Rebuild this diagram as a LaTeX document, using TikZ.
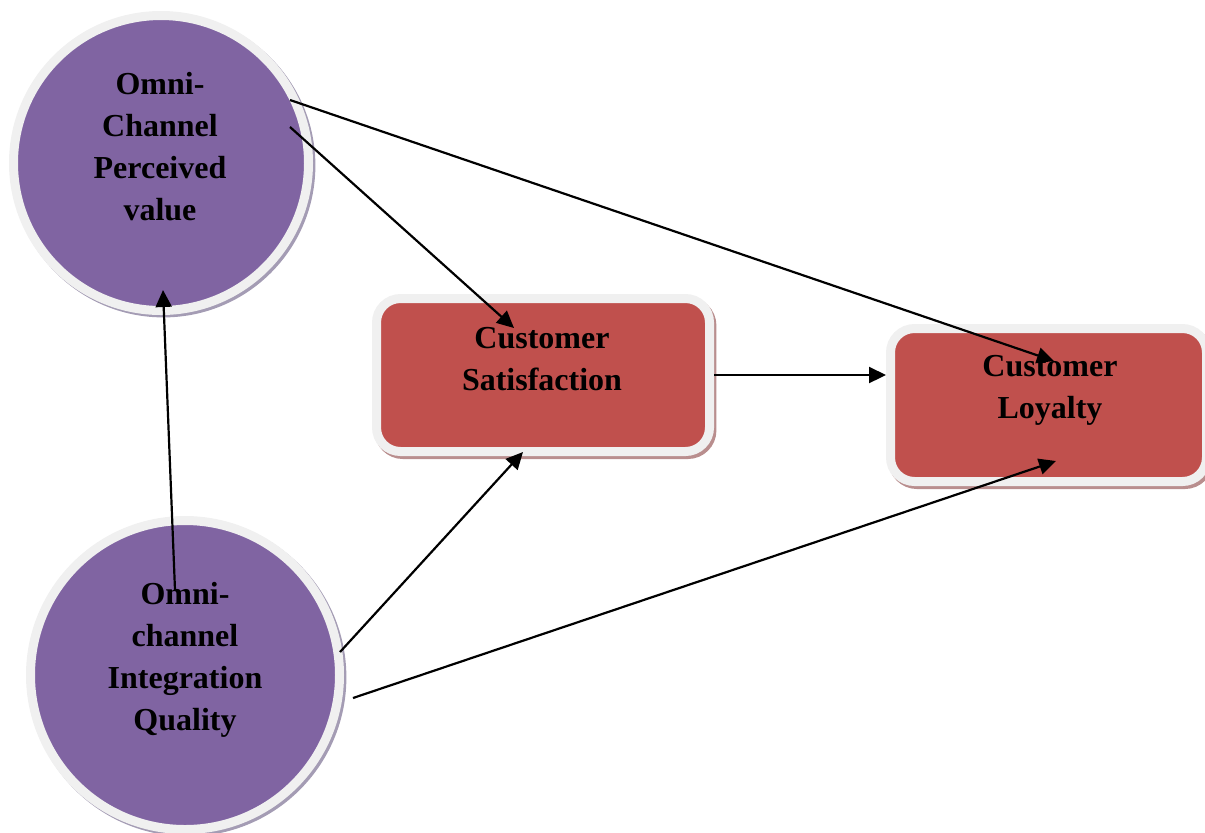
\documentclass[tikz,border=0pt]{standalone}
\usepackage{fontspec}
\setmainfont{Liberation Serif}
\usepackage{xcolor}
\usepackage{tikz}
\usetikzlibrary{arrows.meta}

\definecolor{purp}{HTML}{8064A2}
\definecolor{brick}{HTML}{C0504D}
\definecolor{rim}{HTML}{F0F0F0}
\definecolor{purpshade}{HTML}{A49CB4}
\definecolor{brickshade}{HTML}{B98E8E}

\begin{document}
\begin{tikzpicture}[x=0.5pt,y=-0.5pt,
  ring/.style={draw=rim,line width=4.5pt,inner sep=0pt},
  bubble/.style={ring,circle,fill=purp,
    preaction={draw=purpshade,line width=4.5pt,transform canvas={shift={(1.2pt,-1.2pt)}}}},
  block/.style={ring,rectangle,rounded corners=12pt,fill=brick,
    preaction={draw=brickshade,line width=4.5pt,transform canvas={shift={(1.2pt,-1.5pt)}}}},
  lbl/.style={align=center,font=\fontsize{16}{21}\selectfont\bfseries},
  arr/.style={-{Triangle[length=8.5pt,width=8pt]},line width=1.1pt}]
\useasboundingbox (0,0) rectangle (1205,832);

% constructs
\node[bubble,minimum size=147.5pt] (pv) at (161,163) {};
\node[bubble,minimum size=154.5pt] (qi) at (185,675) {};
\node[block,minimum width=166.5pt,minimum height=76.5pt] (sat) at (543,375) {};
\node[block,minimum width=158pt,minimum height=76.5pt] (loy) at (1048.5,405) {};

\node[lbl] (pvtext) at (160,147) {Omni-\\Channel\\Perceived\\value};
\node[lbl] (qitext) at (185,660) {Omni-\\channel\\Integration\\Quality};
\node[lbl] (sattext) at (542,359) {Customer\\Satisfaction};
\node[lbl] (loytext) at (1050,390) {Customer\\Loyalty};

% arrow ends
\coordinate (pv-a) at (290,100);
\coordinate (pv-b) at (290,127);
\coordinate (pv-c) at (163,290);
\coordinate (qi-a) at (175,590);
\coordinate (qi-b) at (340,652);
\coordinate (qi-c) at (353,698);
\coordinate (sat-a) at (514,328);
\coordinate (sat-b) at (523,452);
\coordinate (loy-a) at (1054,361);
\coordinate (loy-b) at (1056,461);

\draw[arr] (pv-a) -- (loy-a);
\draw[arr] (pv-b) -- (sat-a);
\draw[arr] (qi-a) -- (pv-c);
\draw[arr] (qi-b) -- (sat-b);
\draw[arr] (qi-c) -- (loy-b);
\draw[arr] (sat.east) -- (sat.east -| loy.west);
\end{tikzpicture}
\end{document}
